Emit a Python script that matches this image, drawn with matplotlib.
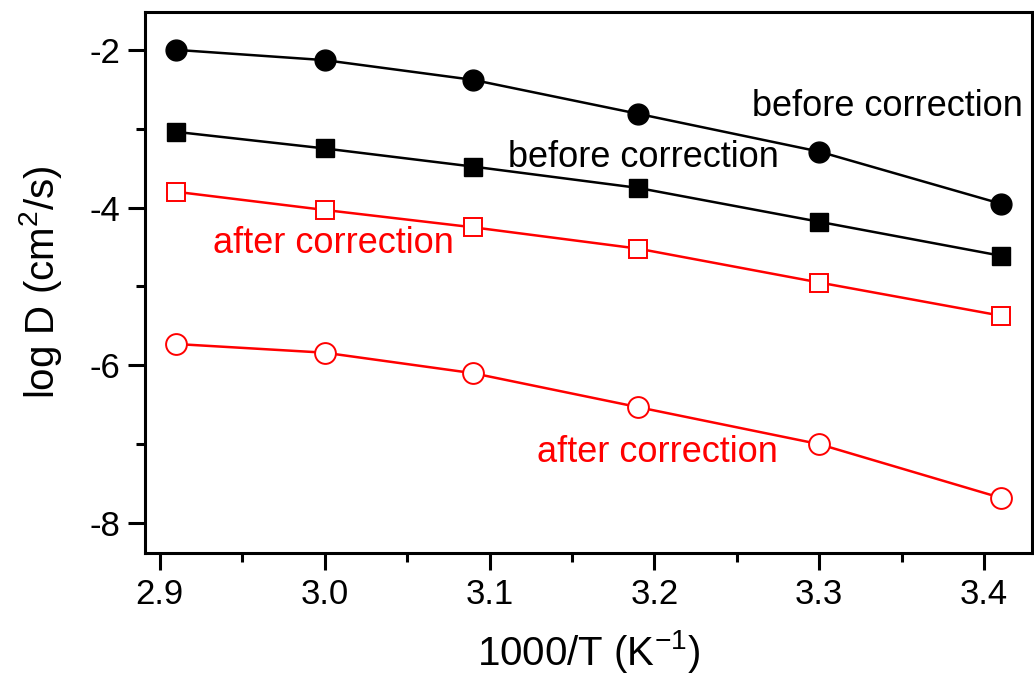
import matplotlib
matplotlib.use("Agg")
import matplotlib.pyplot as plt
from matplotlib.ticker import MultipleLocator

plt.rcParams["font.family"] = ["Liberation Sans", "DejaVu Sans"]
plt.rcParams["mathtext.fontset"] = "custom"
plt.rcParams["mathtext.rm"] = "Liberation Sans"

inv_t = [2.91, 3.0, 3.09, 3.19, 3.3, 3.41]
before_circle = [-2.00, -2.13, -2.38, -2.81, -3.29, -3.95]
before_square = [-3.04, -3.25, -3.48, -3.75, -4.18, -4.61]
after_square = [-3.80, -4.03, -4.25, -4.52, -4.95, -5.37]
after_circle = [-5.73, -5.84, -6.10, -6.53, -7.00, -7.68]

fig = plt.figure(figsize=(10.34, 6.99), dpi=100)
ax = fig.add_axes([0.1402, 0.2089, 0.8578, 0.7739])

ax.plot(inv_t, before_circle, color="black", lw=1.8, marker="o", ms=15)
ax.plot(inv_t, before_square, color="black", lw=1.8, marker="s", ms=13)
ax.plot(inv_t, after_square, color="red", lw=1.8, marker="s", ms=13,
        mfc="white", mec="red", mew=1.4)
ax.plot(inv_t, after_circle, color="red", lw=1.8, marker="o", ms=15,
        mfc="white", mec="red", mew=1.4)

ax.text(3.259, -2.72, "before correction", fontsize=26, color="black", va="center")
ax.text(3.111, -3.37, "before correction", fontsize=26, color="black", va="center")
ax.text(2.932, -4.46, "after correction", fontsize=26, color="red", va="center")
ax.text(3.129, -7.10, "after correction", fontsize=26, color="red", va="center")

ax.set_xlim(2.891, 3.429)
ax.set_ylim(-8.38, -1.52)
ax.xaxis.set_major_locator(MultipleLocator(0.1))
ax.xaxis.set_minor_locator(MultipleLocator(0.05))
ax.yaxis.set_major_locator(MultipleLocator(2))
ax.yaxis.set_minor_locator(MultipleLocator(1))
ax.xaxis.set_major_formatter(plt.FormatStrFormatter("%.1f"))
ax.yaxis.set_major_formatter(plt.FuncFormatter(lambda v, p: f"{v:.0f}".replace("\u2212", "-")))

for s in ax.spines.values():
    s.set_linewidth(2.2)
ax.tick_params(which="major", direction="out", length=12, width=2.2, labelsize=25, pad=6)
ax.tick_params(which="minor", direction="out", length=6.5, width=2.2)

ax.set_xlabel("1000/T (K$^{-1}$)", fontsize=29, labelpad=12)
ax.set_ylabel("log D (cm$^{2}$/s)", fontsize=29, labelpad=18)

fig.savefig("out.png", dpi=100)
